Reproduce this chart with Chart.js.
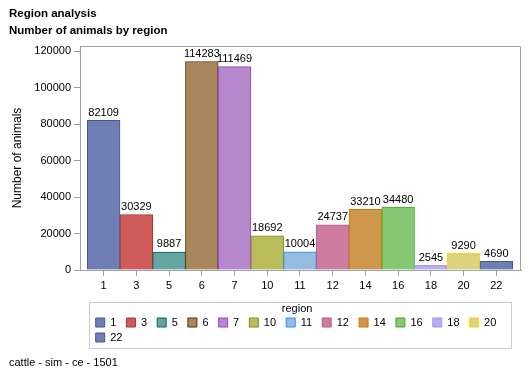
<!DOCTYPE html>
<html>
<head>
<meta charset="utf-8">
<script src="https://cdn.jsdelivr.net/npm/chart.js@4"></script>
<style>
  html, body { margin: 0; padding: 0; background: #fff; }
  #wrap { width: 529px; height: 377px; }
</style>
</head>
<body>
<div id="wrap"><canvas id="myChart" width="529" height="377"></canvas></div>
<script>
const regions = ['1', '3', '5', '6', '7', '10', '11', '12', '14', '16', '18', '20', '22'];
const animals = [82109, 30329, 9887, 114283, 111469, 18692, 10004, 24737, 33210, 34480, 2545, 9290, 4690];
const fills = ['#6f7eb3', '#d05b5b', '#66a5a0', '#a9865b', '#b689cd', '#babc5a', '#94bde1',
               '#cd7ba1', '#cf974b', '#87c873', '#b7aef1', '#ddd17e', '#6f7eb3'];
const borders = ['#445694', '#a23a2e', '#01665e', '#543005', '#9d3cdb', '#7f8e1f', '#2a8bf0',
                 '#b55d8e', '#d17800', '#47a82a', '#b38ef3', '#f9da04', '#445694'];
const yTicks = [0, 20000, 40000, 60000, 80000, 100000, 120000];

const axisGrey = '#9ea2a6';

Chart.defaults.font.family = "'Liberation Sans', Arial, sans-serif";
Chart.defaults.font.size = 11;
Chart.defaults.color = '#000';

// bar values on top of each bar
const valueLabels = {
    id: 'valueLabels',
    afterDatasetsDraw(chart){
        const ctx = chart.ctx;
        const meta = chart.getDatasetMeta(0);
        ctx.save();
        ctx.font = "11px 'Liberation Sans', Arial, sans-serif";
        ctx.fillStyle = '#000';
        ctx.textAlign = 'center';
        ctx.textBaseline = 'bottom';
        meta.data.forEach((bar, i)=>{
            ctx.fillText(String(animals[i]), bar.x, bar.y - 2);
        });
        ctx.restore();
    }
};

// frame round the plot and box round the legend
const frames = {
    id: 'frames',
    afterLayout(chart){
        chart.legend.left = chart.chartArea.left + 11.7;
    },
    afterDraw(chart){
        const ctx = chart.ctx;
        const a = chart.chartArea;
        const lg = chart.legend;
        ctx.save();
        ctx.lineWidth = 1;
        ctx.strokeStyle = axisGrey;
        ctx.beginPath();
        ctx.moveTo(a.left, a.top + 0.5);
        ctx.lineTo(a.right - 0.5, a.top + 0.5);
        ctx.lineTo(a.right - 0.5, a.bottom);
        ctx.stroke();
        ctx.strokeStyle = '#cccccc';
        ctx.strokeRect(a.left + 9.5, lg.top + 3.5, a.width - 19, 46);
        ctx.restore();
    }
};

const points = animals.map((v, i)=>({x: i, y: v}));

const myChart = new Chart('myChart', {
    type: 'bar',
    data: {
        datasets: [{
            label: 'Number of animals',
            data: points,
            backgroundColor: fills,
            borderColor: borders,
            borderWidth: 1,
            borderSkipped: 'bottom',
            categoryPercentage: 1.0,
            barPercentage: 1.0
        }]
    },
    options: {
        responsive: false,
        animation: false,
        layout: {padding: {left: 9, right: 8, top: 0, bottom: 0}},
        scales: {
            x: {
                type: 'linear',
                offset: false,
                min: -0.723,
                max: 12.754,
                afterBuildTicks: (scale)=>{
                    scale.ticks = regions.map((r, i)=>({value: i}));
                },
                afterFit: (scale)=>{ scale.height = 29; },
                ticks: {
                    stepSize: 1,
                    autoSkip: false,
                    maxRotation: 0,
                    padding: 3,
                    callback: (v)=>regions[v]
                },
                grid: {offset: false, drawOnChartArea: false, color: axisGrey, tickLength: 6},
                border: {color: axisGrey}
            },
            y: {
                min: 0,
                max: 122800,
                afterBuildTicks: (scale)=>{
                    scale.ticks = yTicks.map(v=>({value: v}));
                },
                afterFit: (scale)=>{ scale.width = 71; },
                ticks: {
                    stepSize: 20000,
                    padding: 3,
                    autoSkip: false,
                    callback: (v)=>String(v)
                },
                grid: {drawOnChartArea: false, color: axisGrey, tickLength: 6},
                border: {color: axisGrey},
                title: {
                    display: true,
                    text: 'Number of animals',
                    font: {size: 12},
                    padding: {top: 1, bottom: 0}
                }
            }
        },
        plugins: {
            tooltip: {enabled: false},
            title: {
                display: true,
                align: 'start',
                text: ['Region analysis', 'Number of animals by region'],
                font: {size: 11.5, weight: 'bold', lineHeight: '17px'},
                padding: {top: 5.5, bottom: 6.5},
                color: '#000'
            },
            subtitle: {
                display: true,
                position: 'bottom',
                align: 'start',
                text: 'cattle - sim - ce - 1501',
                font: {size: 11},
                padding: {top: 2.9, bottom: 7.9},
                color: '#000'
            },
            legend: {
                position: 'bottom',
                align: 'start',
                fullSize: false,
                title: {
                    display: true,
                    text: 'region',
                    font: {size: 11, lineHeight: '10px'},
                    padding: {top: 4, bottom: 0},
                    color: '#000'
                },
                labels: {
                    boxWidth: 9,
                    boxHeight: 9,
                    padding: 4,
                    font: {size: 11},
                    generateLabels: ()=>regions.map((r, i)=>({
                        text: r + '  ',
                        fillStyle: fills[i],
                        strokeStyle: borders[i],
                        lineWidth: 1,
                        hidden: false,
                        index: i,
                        datasetIndex: 0
                    }))
                }
            }
        }
    },
    plugins: [valueLabels, frames]
});
</script>
</body>
</html>
